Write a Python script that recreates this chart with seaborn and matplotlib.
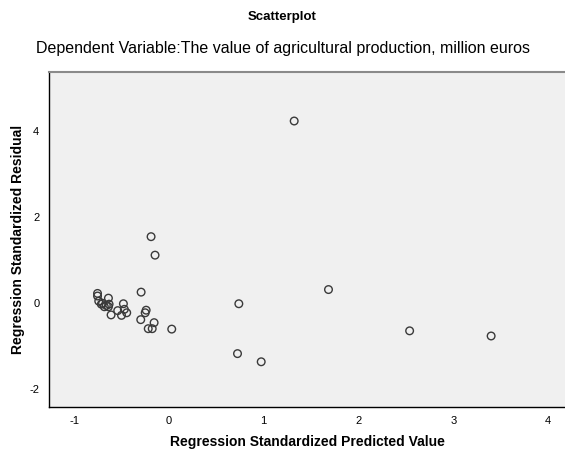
import matplotlib
matplotlib.use("Agg")
import matplotlib.pyplot as plt
import seaborn as sns
import pandas as pd

# Data
predicted = [-0.753, -0.753, -0.74, -0.638, -0.713, -0.681, -0.631, -0.638, -0.70, -0.66,
             -0.61, -0.48, -0.54, -0.50, -0.445, -0.47,
             -0.293, -0.24, -0.25, -0.297, -0.156, -0.218, -0.176, 0.03,
             -0.188, -0.146, 0.738, 1.684, 0.724, 0.974, 1.322, 2.54, 3.40]
residual = [0.23, 0.17, 0.05, 0.12, -0.02, -0.08, -0.02, -0.08, 0.00, -0.05,
            -0.27, -0.01, -0.17, -0.28, -0.22, -0.14,
            0.26, -0.16, -0.22, -0.38, -0.45, -0.59, -0.59, -0.60,
            1.55, 1.12, -0.01, 0.32, -1.17, -1.36, 4.24, -0.64, -0.76]
x_ticks = [-1, 0, 1, 2, 3, 4]
y_ticks = [-2, 0, 2, 4]

df = pd.DataFrame({"pred": predicted, "resid": residual})

sns.set_style("white")
plt.rcParams["font.family"] = ["Liberation Sans", "DejaVu Sans"]
plt.rcParams["text.color"] = "black"
plt.rcParams["axes.labelcolor"] = "black"

fig = plt.figure(figsize=(5.65, 4.49), dpi=100)
ax = fig.add_axes([49 / 565, 1 - 406.5 / 449, (566 - 49) / 565, (406.5 - 72) / 449])
ax.set_facecolor("#F0F0F0")

sns.scatterplot(data=df, x="pred", y="resid", ax=ax, marker="o",
                facecolor="none", edgecolor="#3a3a3a", linewidth=1.0, s=30)

ax.set_xlim(-1.265, 4.19)
ax.set_ylim(-2.40, 5.38)
ax.set_xticks(x_ticks)
ax.set_yticks(y_ticks)
ax.set_xticklabels([str(v) for v in x_ticks])
ax.set_yticklabels([str(v) for v in y_ticks])
ax.tick_params(direction="out", length=5, width=0.8, colors="black", labelsize=8, pad=2)

for side in ["left", "bottom"]:
    ax.spines[side].set_color("black")
    ax.spines[side].set_linewidth(1.0)
ax.spines["top"].set_color("#8a8a8a")
ax.spines["top"].set_linewidth(1.5)
ax.spines["right"].set_visible(False)

ax.set_xlabel("Regression Standardized Predicted Value", fontsize=10, fontweight="bold", labelpad=6)
ax.set_ylabel("Regression Standardized Residual", fontsize=10, fontweight="bold", labelpad=3)

fig.text(0.5, 1 - 17 / 449, "Scatterplot", ha="center", va="center", fontsize=9.5, fontweight="bold")
fig.text(0.5, 1 - 48 / 449, "Dependent Variable:The value of agricultural production, million euros",
         ha="center", va="center", fontsize=11.5)

fig.savefig("out.png", dpi=100)
